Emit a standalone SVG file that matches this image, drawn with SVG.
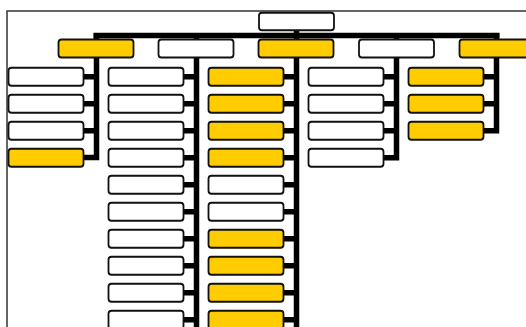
<svg xmlns="http://www.w3.org/2000/svg" width="526" height="327" viewBox="0 0 526 327">
<style>
.b{fill:#fff;stroke:#111;stroke-width:1.8}
.y{fill:#ffcc00;stroke:#111;stroke-width:1.8}
.c{fill:none;stroke:#000;stroke-width:5.5;stroke-linejoin:miter;stroke-linecap:butt}
</style>
<rect x="7" y="11" width="530" height="330" fill="#fff" stroke="#333" stroke-width="1.5"/>
<g id="connectors" class="c">
<path d="M296.5,30 V35.5"/>
<path d="M93.5,35.5 H499.5"/>
<path d="M96.5,33 V157.5 H83"/>
<path d="M96.5,76.75 H83 M96.5,103.75 H83 M96.5,130.75 H83"/>
<path d="M196.5,33 V330"/>
<path d="M196.5,76.75 H183 M196.5,103.75 H183 M196.5,130.75 H183 M196.5,157.75 H183 M196.5,184.75 H183 M196.5,211.75 H183 M196.5,238.75 H183 M196.5,265.75 H183 M196.5,292.75 H183 M196.5,319.75 H183"/>
<path d="M296.5,33 V330"/>
<path d="M296.5,76.75 H283 M296.5,103.75 H283 M296.5,130.75 H283 M296.5,157.75 H283 M296.5,184.75 H283 M296.5,211.75 H283 M296.5,238.75 H283 M296.5,265.75 H283 M296.5,292.75 H283 M296.5,319.75 H283"/>
<path d="M396.5,33 V157.75 H383"/>
<path d="M396.5,76.75 H383 M396.5,103.75 H383 M396.5,130.75 H383"/>
<path d="M496.5,33 V130.75 H483"/>
<path d="M496.5,76.75 H483 M496.5,103.75 H483"/>
</g>
<g id="root"><rect class="b" x="259" y="12.75" width="75" height="17.5" rx="3"/></g>
<g id="p1"><rect class="y" x="58.5" y="39.5" width="75" height="18" rx="3"/></g>
<g id="p2"><rect class="b" x="158.5" y="39.5" width="75" height="18" rx="3"/></g>
<g id="p3"><rect class="y" x="258.5" y="39.5" width="75" height="18" rx="3"/></g>
<g id="p4"><rect class="b" x="359" y="39.5" width="75" height="18" rx="3"/></g>
<g id="p5"><rect class="y" x="459.5" y="39.5" width="75" height="18" rx="3"/></g>
<g id="c1">
<rect class="b" x="8.5" y="67.75" width="75" height="18" rx="3"/>
<rect class="b" x="8.5" y="94.75" width="75" height="18" rx="3"/>
<rect class="b" x="8.5" y="121.75" width="75" height="18" rx="3"/>
<rect class="y" x="8.5" y="148.75" width="75" height="18" rx="3"/>
</g>
<g id="c2">
<rect class="b" x="108.5" y="67.75" width="75" height="18" rx="3"/>
<rect class="b" x="108.5" y="94.75" width="75" height="18" rx="3"/>
<rect class="b" x="108.5" y="121.75" width="75" height="18" rx="3"/>
<rect class="b" x="108.5" y="148.75" width="75" height="18" rx="3"/>
<rect class="b" x="108.5" y="175.75" width="75" height="18" rx="3"/>
<rect class="b" x="108.5" y="202.75" width="75" height="18" rx="3"/>
<rect class="b" x="108.5" y="229.75" width="75" height="18" rx="3"/>
<rect class="b" x="108.5" y="256.75" width="75" height="18" rx="3"/>
<rect class="b" x="108.5" y="283.75" width="75" height="18" rx="3"/>
<rect class="b" x="108.5" y="310.75" width="75" height="18" rx="3"/>
</g>
<g id="c3">
<rect class="y" x="208.5" y="67.75" width="75" height="18" rx="3"/>
<rect class="y" x="208.5" y="94.75" width="75" height="18" rx="3"/>
<rect class="y" x="208.5" y="121.75" width="75" height="18" rx="3"/>
<rect class="y" x="208.5" y="148.75" width="75" height="18" rx="3"/>
<rect class="b" x="208.5" y="175.75" width="75" height="18" rx="3"/>
<rect class="b" x="208.5" y="202.75" width="75" height="18" rx="3"/>
<rect class="y" x="208.5" y="229.75" width="75" height="18" rx="3"/>
<rect class="y" x="208.5" y="256.75" width="75" height="18" rx="3"/>
<rect class="y" x="208.5" y="283.75" width="75" height="18" rx="3"/>
<rect class="y" x="208.5" y="310.75" width="75" height="18" rx="3"/>
</g>
<g id="c4">
<rect class="b" x="308.5" y="67.75" width="75" height="18" rx="3"/>
<rect class="b" x="308.5" y="94.75" width="75" height="18" rx="3"/>
<rect class="b" x="308.5" y="121.75" width="75" height="18" rx="3"/>
<rect class="b" x="308.5" y="148.75" width="75" height="18" rx="3"/>
</g>
<g id="c5">
<rect class="y" x="408.5" y="67.75" width="75" height="18" rx="3"/>
<rect class="y" x="408.5" y="94.75" width="75" height="18" rx="3"/>
<rect class="y" x="408.5" y="121.75" width="75" height="18" rx="3"/>
</g>
</svg>
